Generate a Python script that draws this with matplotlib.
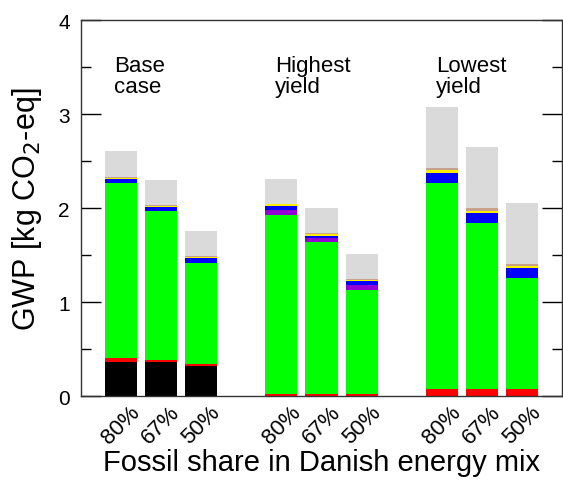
import numpy as np
import matplotlib.pyplot as plt

plt.rcParams['font.family'] = ['Liberation Sans', 'DejaVu Sans']

# bar positions: three scenarios, three fossil shares each
positions = [0, 1, 2, 4, 5, 6, 8, 9, 10]
share_labels = ['80%', '67%', '50%'] * 3
scenarios = ['Base\ncase', 'Highest\nyield', 'Lowest\nyield']
scenario_x = [-0.17, 3.85, 7.85]

# GWP contributions [kg CO2-eq], stacked bottom to top
fossil = [0.365, 0.358, 0.316, 0.0, 0.0, 0.0, 0.0, 0.0, 0.0]
feedstock = [0.035, 0.028, 0.028, 0.02, 0.02, 0.02, 0.08, 0.08, 0.075]
electricity = [1.863, 1.579, 1.071, 1.91, 1.615, 1.11, 2.183, 1.76, 1.177]
fertiliser = [0.0, 0.0, 0.0, 0.05, 0.045, 0.054, 0.0, 0.0, 0.0]
heat = [0.047, 0.045, 0.05, 0.04, 0.025, 0.036, 0.107, 0.107, 0.106]
chemicals = [0.013, 0.015, 0.015, 0.02, 0.015, 0.01, 0.03, 0.023, 0.022]
transport = [0.005, 0.005, 0.01, 0.005, 0.01, 0.01, 0.025, 0.03, 0.027]
other = [0.275, 0.265, 0.262, 0.265, 0.27, 0.27, 0.645, 0.646, 0.649]

layers = [fossil, feedstock, electricity, fertiliser, heat, chemicals, transport, other]
colors = ['#000000', '#ff0000', '#00ff00', '#9400d3', '#0000ff', '#ffee00',
          '#c8a08c', '#dadada']

fig = plt.figure(figsize=(5.63, 4.85), dpi=100)
ax = fig.add_axes([0.1439, 0.1814, 0.8543, 0.7753])

bottom = np.zeros(len(positions))
for vals, col in zip(layers, colors):
    ax.bar(positions, vals, width=0.8, bottom=bottom, color=col, linewidth=0)
    bottom += np.array(vals)

for x, name in zip(scenario_x, scenarios):
    ax.text(x, 3.63, name, fontsize=16, ha='left', va='top', linespacing=1.0)

ax.set_xlim(-1, 11)
ax.set_ylim(0, 4)
ax.set_yticks([0, 1, 2, 3, 4])
ax.set_yticks([0.5, 1.5, 2.5, 3.5], minor=True)
ax.set_xticks(positions)
ax.set_xticklabels(share_labels, rotation=45, ha='center', va='top')
ax.tick_params(axis='y', which='major', direction='in', length=14.5, width=1,
               labelsize=15, right=True, pad=8)
ax.tick_params(axis='y', which='minor', direction='in', length=7, width=1,
               right=True)
ax.tick_params(axis='x', length=0, labelsize=16, pad=4)

for sp in ax.spines.values():
    sp.set_linewidth(1)
    sp.set_color('#333333')

ax.set_ylabel('GWP [kg CO$_2$-eq]', fontsize=22, labelpad=10)
ax.set_xlabel('Fossil share in Danish energy mix', fontsize=21, labelpad=0)

fig.savefig('out.png', dpi=100)
